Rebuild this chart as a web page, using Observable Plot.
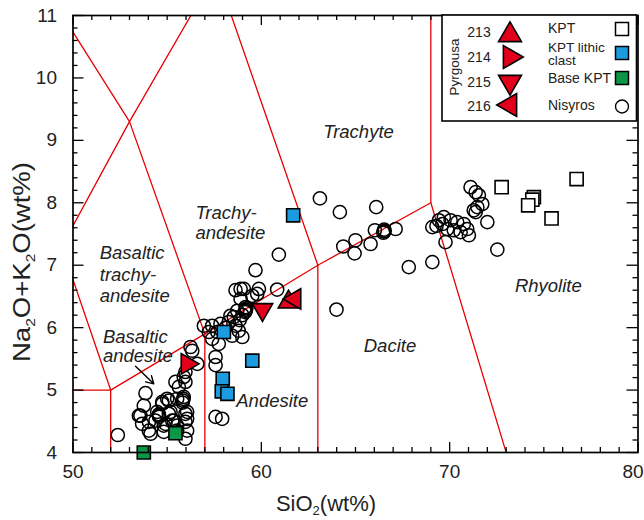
<!DOCTYPE html>
<html><head><meta charset="utf-8">
<script src="https://cdn.jsdelivr.net/npm/d3@7"></script>
<script src="https://cdn.jsdelivr.net/npm/@observablehq/plot@0.6"></script>
<style>
body{margin:0;background:#fff;}
#chart svg{display:block;}
</style></head><body><div id="chart"></div>
<script>
// ---------- DATA (SiO2 wt%, Na2O+K2O wt%) ----------
const nisyros = [
 [52.38,4.28],[53.85,4.95],[53.76,4.75],[53.58,4.59],[53.67,4.46],[54.03,4.49],[54.12,4.30],[54.03,4.35],
 [54.47,4.65],[54.56,4.59],[54.56,4.61],[54.58,4.57],[54.38,4.51],[54.74,4.78],[54.74,4.81],[54.82,4.43],
 [54.91,4.46],[54.82,4.33],[55.00,4.86],[55.09,4.83],[55.18,4.65],[55.09,4.62],[55.27,4.51],[55.35,4.51],
 [55.53,4.43],[55.53,4.35],[55.62,5.05],[55.44,5.13],[55.97,5.13],[55.84,4.83],[55.86,4.86],[55.82,4.80],
 [55.88,4.89],[55.53,4.86],[55.97,4.62],[55.97,4.49],[56.06,4.65],[56.06,4.54],[56.06,4.35],[55.97,4.22],
 [55.88,5.21],[55.97,5.29],[56.24,5.69],[56.33,5.63],[56.60,5.42],[53.50,4.59],
 [57.57,4.57],[57.92,4.54],
 [59.69,6.92],[60.93,7.17],[59.87,6.62],[59.07,6.62],[58.90,6.62],[58.90,6.46],[59.52,6.51],[59.16,6.33],
 [59.16,6.27],[59.18,6.29],[59.14,6.25],[59.20,6.31],[58.72,6.27],[58.54,6.17],[58.27,6.09],[58.63,6.03],
 [58.80,5.95],[58.99,5.85],[58.45,5.87],[56.95,6.03],[57.39,6.03],[57.21,5.93],[57.66,5.93],[57.39,5.82],
 [57.74,5.74],[57.57,5.53],[57.57,5.40],[58.63,6.60],[59.78,6.54],[58.36,6.19],[58.10,6.00],[57.83,6.06],
 [60.84,6.61],[59.00,6.20],[58.85,6.12],
 [63.11,8.07],[64.17,7.85],[66.10,7.93],[64.35,7.30],[65.00,7.40],[64.95,7.19],[65.80,7.34],[66.03,7.56],
 [66.50,7.54],[66.52,7.57],[66.48,7.52],[66.55,7.55],[67.13,7.58],[67.83,6.97],[63.99,6.29],
 [71.11,8.25],[71.38,8.17],[71.55,8.12],[71.73,7.98],[71.47,7.93],[71.28,7.88],[71.38,7.85],[72.00,7.69],
 [72.53,7.25],[69.08,7.05],[69.08,7.61],[69.43,7.72],[69.69,7.77],[70.05,7.72],[70.40,7.69],[70.75,7.66],
 [70.93,7.58],[71.02,7.48],[70.58,7.53],[70.22,7.56],[69.87,7.58],[69.78,7.37],[69.61,7.66],[69.30,7.63]
];
const kpt = [[72.76,8.25],[74.47,8.09],[74.39,8.05],[74.17,7.96],[76.74,8.38],[75.41,7.75]];
const kptLithic = [[58.01,5.93],[59.52,5.47],[57.95,5.18],[57.90,4.98],[58.20,4.94],[61.69,7.80]];
const baseKpt = [[53.76,4.00],[55.44,4.31]];
const pyrgousaIds = ["214","215","213","216"];
const pyrgousaSiO2 = [56.06,60.06,61.44,61.78];
const pyrgousaAlk = [5.42,6.29,6.41,6.46];

// TAS field boundaries (Le Bas et al. 1986)
const tasBoundaries = [
 [[45,5],[52,5],[57,5.9],[63,7],[69,8]],
 [[52,0],[52,5]],
 [[57,0],[57,5.9]],
 [[63,0],[63,7]],
 [[77,0],[69,8],[69,13]],
 [[52,5],[49.4,7.3]],
 [[49.4,7.3],[53,9.3],[57.6,11.7]],
 [[57,5.9],[53,9.3],[48.4,11.5]],
 [[63,7],[57.6,11.7]]
];
const wordLabels = ["Trachyte","Dacite","Rhyolite","Andesite"];
const wordX = [65.16,66.83,75.24,60.58];
const wordY = [9.13,5.71,6.67,4.83];
const blockLabels = ["Trachy-","andesite","Basaltic","trachy-","andesite","Basaltic","andesite"];
const blockX = [56.5,56.5,51.42,51.42,51.42,51.59,51.59];
const blockY = [7.84,7.51,7.19,6.84,6.51,5.85,5.54];
const arrowFrom = [53.32,5.38];
const arrowTo = [54.29,5.10];

const xTickLabels = [50,60,70,80];
const yTickLabels = [4,5,6,7,8,9,10,11];

// ---------- helpers ----------
const sqrt3 = Math.sqrt(3);
function triangle(deg){
  const a = deg*Math.PI/180, c = Math.cos(a), s = Math.sin(a);
  return {draw(ctx,size){
    const y = -Math.sqrt(size/(sqrt3*3));
    const pts = [[0,y*2],[-sqrt3*y,-y],[sqrt3*y,-y]].map(([px,py])=>[px*c-py*s, px*s+py*c]);
    ctx.moveTo(pts[0][0],pts[0][1]); ctx.lineTo(pts[1][0],pts[1][1]); ctx.lineTo(pts[2][0],pts[2][1]); ctx.closePath();
  }};
}
const triSymbols = {"213":triangle(0),"214":triangle(90),"215":triangle(180),"216":triangle(270)};
const RED="#e3001b", BLUE="#1c9ce0", GREEN="#0a9646", LINE="#e80000";
const pyrgousa = pyrgousaIds.map((id,i)=>({id,x:pyrgousaSiO2[i],y:pyrgousaAlk[i]}));
const segs = tasBoundaries.flatMap((pts,i)=>pts.map(([x,y])=>({x,y,seg:i})));
const words = wordLabels.map((t,i)=>({t,x:wordX[i],y:wordY[i]}));
const blocks = blockLabels.map((t,i)=>({t,x:blockX[i],y:blockY[i]}));

// tick positions
const xMinor = d3.range(50,81).filter(v=>v%10!==0);
const yMinor = d3.range(0,36).map(i=>+(4+i*0.2).toFixed(1)).filter(v=>Math.abs(v-Math.round(v))>1e-6);
const pxX = 565/30, pxY = 437/7; // px per unit
const tx = (L)=>L/pxX, ty=(L)=>L/pxY;

const font = "'Liberation Sans', Arial, sans-serif";
const plot = Plot.plot({
  width: 644, height: 520,
  marginLeft: 72.5, marginRight: 6.5, marginTop: 15, marginBottom: 68,
  x: {domain:[50,80], ticks: xTickLabels, tickFormat: d=>String(d), tickSize: 0, tickPadding: 12, label: null},
  y: {domain:[4,11], ticks: yTickLabels, tickFormat: d=>String(d), tickSize: 0, tickPadding: 16, label: null},
  style: {fontFamily: font, fontSize: "19px", background: "white", color: "black"},
  marks: [
    Plot.line(segs, {x:"x", y:"y", z:"seg", stroke: LINE, strokeWidth: 1.3, clip: true}),
    Plot.dot(nisyros, {x: d=>d[0], y: d=>d[1], r: 6.6, stroke: "black", strokeWidth: 1.5, fill: "none"}),
    Plot.dot(kpt, {x: d=>d[0], y: d=>d[1], symbol: "square", r: 7.4, stroke: "black", strokeWidth: 1.6, fill: "white"}),
    Plot.dot(kptLithic, {x: d=>d[0], y: d=>d[1], symbol: "square", r: 7.4, stroke: "black", strokeWidth: 1.6, fill: BLUE}),
    Plot.dot(baseKpt, {x: d=>d[0], y: d=>d[1], symbol: "square", r: 7.4, stroke: "black", strokeWidth: 1.6, fill: GREEN}),
    Plot.dot(pyrgousa, {x:"x", y:"y", symbol: d=>triSymbols[d.id], r: 7.6, stroke: "black", strokeWidth: 1.6, fill: RED}),
    Plot.text(words, {x:"x", y:"y", text:"t", fontSize: 18.5, fontStyle: "italic", textAnchor: "middle", fill: "#222"}),
    Plot.text(blocks, {x:"x", y:"y", text:"t", fontSize: 18.5, fontStyle: "italic", textAnchor: "start", fill: "#222"}),
    Plot.arrow([{x1:arrowFrom[0],y1:arrowFrom[1],x2:arrowTo[0],y2:arrowTo[1]}], {x1:"x1",y1:"y1",x2:"x2",y2:"y2", stroke:"black", strokeWidth:1.4, headLength: 9}),
    // inward ticks
    Plot.ruleX(xMinor, {x: d=>d, y1: 4, y2: 4+ty(5), stroke:"black", strokeWidth:1.3}),
    Plot.ruleX(xMinor, {x: d=>d, y1: 11, y2: 11-ty(5), stroke:"black", strokeWidth:1.3}),
    Plot.ruleX(xTickLabels, {x: d=>d, y1: 4, y2: 4+ty(10), stroke:"black", strokeWidth:1.3}),
    Plot.ruleX(xTickLabels, {x: d=>d, y1: 11, y2: 11-ty(10), stroke:"black", strokeWidth:1.3}),
    Plot.ruleY(yMinor, {y: d=>d, x1: 50, x2: 50+tx(5), stroke:"black", strokeWidth:1.3}),
    Plot.ruleY(yMinor, {y: d=>d, x1: 80, x2: 80-tx(5), stroke:"black", strokeWidth:1.3}),
    Plot.ruleY(yTickLabels, {y: d=>d, x1: 50, x2: 50+tx(11), stroke:"black", strokeWidth:1.3}),
    Plot.ruleY(yTickLabels, {y: d=>d, x1: 80, x2: 80-tx(11), stroke:"black", strokeWidth:1.3}),
    Plot.frame({stroke: "black", strokeWidth: 1.7})
  ]
});
document.getElementById("chart").appendChild(plot);

// ---------- axis titles & legend ----------
const svg = d3.select(plot);
svg.selectAll("g[aria-label='x-axis'] text, g[aria-label='y-axis'] text, g[aria-label='x-axis tick label'] text, g[aria-label='y-axis tick label'] text")
  .style("font-size","19px").style("fill","#222");
// keep the last x tick label ("80") inside the picture, as in the reference
svg.selectAll("g[aria-label='x-axis'] text, g[aria-label='x-axis tick label'] text")
  .filter(function(){ return this.textContent === "80"; }).attr("dx", -5);

const xt = svg.append("text").attr("x",326).attr("y",511).attr("text-anchor","middle")
  .style("font-family",font).style("font-size","22px").attr("fill","#222");
xt.append("tspan").text("SiO");
xt.append("tspan").text("2").style("font-size","13px").attr("dy",4);
xt.append("tspan").text("(wt%)").attr("dy",-4);

const yt = svg.append("text").attr("transform","translate(30,262) rotate(-90)").attr("text-anchor","middle")
  .attr("textLength",200).attr("lengthAdjust","spacingAndGlyphs")
  .style("font-family",font).style("font-size","23px").attr("fill","#222");
yt.append("tspan").text("Na");
yt.append("tspan").text("2").style("font-size","13px").attr("dy",5);
yt.append("tspan").text("O+K").attr("dy",-5);
yt.append("tspan").text("2").style("font-size","13px").attr("dy",5);
yt.append("tspan").text("O(wt%)").attr("dy",-5);

const lg = svg.append("g").style("font-family",font).attr("fill","#222");
lg.append("rect").attr("x",442).attr("y",15).attr("width",194.5).attr("height",106)
  .attr("fill","white").attr("stroke","black").attr("stroke-width",1.6);
lg.append("text").attr("transform","translate(459,67) rotate(-90)").attr("text-anchor","middle")
  .style("font-size","13.5px").text("Pyrgousa");
const ids = ["213","214","215","216"], idY=[32,57,82,106], triY=[35,57,82,105];
ids.forEach((id,i)=>{
  lg.append("text").attr("x",479).attr("y",idY[i]).attr("dy","0.35em").attr("text-anchor","middle")
    .style("font-size","14px").text(id);
  lg.append("path").attr("transform",`translate(510,${triY[i]})`)
    .attr("d",d3.symbol(triSymbols[id], 8.5*8.5*Math.PI)())
    .attr("fill",RED).attr("stroke","black").attr("stroke-width",1.6);
});
const labs = [["KPT",28,14],["KPT lithic",47.5,13.5],["clast",60,13.5],["Base KPT",78,14],["Nisyros",105,14]];
labs.forEach(([t,y,fs])=>lg.append("text").attr("x",548).attr("y",y).attr("dy","0.35em")
  .attr("text-anchor","start").style("font-size",fs+"px").text(t));
[["white",29],[BLUE,53],[GREEN,78]].forEach(([c,y])=>
  lg.append("rect").attr("x",615.5).attr("y",y-6.5).attr("width",13).attr("height",13)
    .attr("fill",c).attr("stroke","black").attr("stroke-width",1.5));
lg.append("circle").attr("cx",622).attr("cy",106.5).attr("r",6.5).attr("fill","white").attr("stroke","black").attr("stroke-width",1.4);
</script></body></html>
